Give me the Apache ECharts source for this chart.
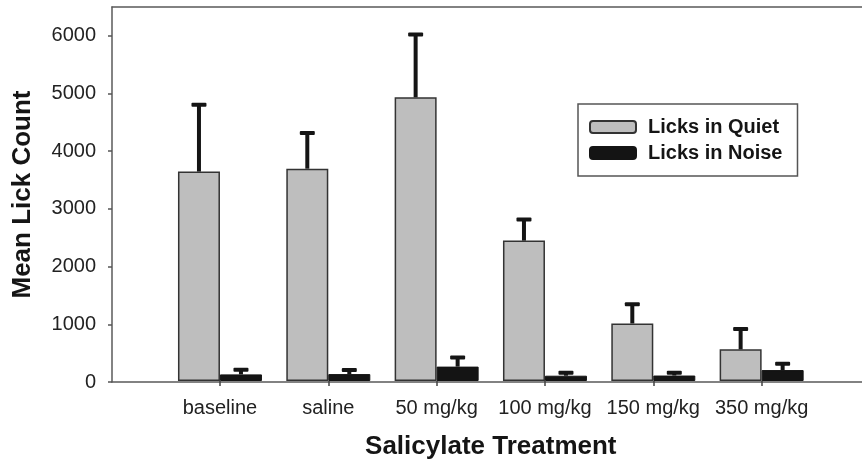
<!DOCTYPE html>
<html>
<head>
<meta charset="utf-8">
<script src="https://cdn.jsdelivr.net/npm/echarts@6/dist/echarts.min.js"></script>
<style>html,body{margin:0;padding:0;background:#fff}#c{width:862px;height:465px}</style>
</head>
<body>
<div id="c"></div>
<script>
const categories = ['baseline', 'saline', '50 mg/kg', '100 mg/kg', '150 mg/kg', '350 mg/kg'];
const quietValues = [3640, 3690, 4930, 2440, 1000, 550];
const quietErrors = [1160, 620, 1090, 365, 335, 355];
const noiseValues = [115, 120, 250, 92, 95, 190];
const noiseErrors = [80, 70, 160, 50, 48, 110];
const yTicks = [0, 1000, 2000, 3000, 4000, 5000, 6000];
const seriesNames = ['Licks in Quiet', 'Licks in Noise'];

const FONT = 'Liberation Sans';
const BAR_W = 42;
const FRAME = {color: '#5a5a5a', width: 1.5};
const chart = echarts.init(document.getElementById('c'), null, {renderer: 'canvas'});

function errSeries(vals, errs, offset, name) {
  return {
    type: 'custom', xAxisIndex: 2, yAxisIndex: 1, z: 5, silent: true,
    name: name + ' SE',
    data: vals.map((v, i) => [i, v, errs[i]]),
    renderItem: function (params, api) {
      const i = api.value(0), v = api.value(1), e = api.value(2);
      const p0 = api.coord([i, v]);
      const p1 = api.coord([i, v + e]);
      const x = p0[0] + offset;
      return {
        type: 'group',
        children: [
          {type: 'line', shape: {x1: x, y1: p0[1], x2: x, y2: p1[1]}, style: {stroke: '#151515', lineWidth: 4}},
          {type: 'rect', shape: {x: x - 7.5, y: p1[1] - 2, width: 15, height: 4, r: 1}, style: {fill: '#151515'}}
        ]
      };
    }
  };
}

chart.setOption({
  animation: false,
  grid: [
    {left: 112, top: 7, right: 0, bottom: 83},
    {left: 165.8, top: 7, right: 46.2, bottom: 83}
  ],
  legend: {
    orient: 'vertical', left: 578, top: 104,
    padding: [13, 15, 13, 11],
    borderColor: '#555', borderWidth: 1.5,
    itemGap: 6, itemWidth: 46, itemHeight: 12,
    icon: 'roundRect',
    data: seriesNames,
    textStyle: {fontFamily: FONT, fontSize: 20, fontWeight: 'bold', color: '#151515', padding: [0, 0, 0, 7]}
  },
  xAxis: [
    {gridIndex: 0, type: 'value', min: 0, max: 1, position: 'bottom',
     axisLine: {show: true, lineStyle: FRAME}, axisTick: {show: false}, axisLabel: {show: false}, splitLine: {show: false}},
    {gridIndex: 0, type: 'value', min: 0, max: 1, position: 'top',
     axisLine: {show: true, lineStyle: FRAME}, axisTick: {show: false}, axisLabel: {show: false}, splitLine: {show: false}},
    {
      gridIndex: 1, type: 'category', data: categories, boundaryGap: true,
      axisLine: {show: false},
      axisTick: {show: true, alignWithLabel: true, length: 5, lineStyle: {color: '#444', width: 1.5}},
      axisLabel: {fontFamily: FONT, fontSize: 20, color: '#222', margin: 17, interval: 0, hideOverlap: false},
      name: 'Salicylate Treatment', nameLocation: 'middle', nameGap: 53,
      nameTextStyle: {fontFamily: FONT, fontSize: 26, fontWeight: 'bold', color: '#151515'}
    }
  ],
  yAxis: [
    {
      gridIndex: 0, type: 'value', min: 0, max: 6500,
      splitLine: {show: false},
      axisLine: {show: true, lineStyle: FRAME},
      axisTick: {show: true, length: 4, customValues: yTicks, lineStyle: {color: '#555', width: 1.5}},
      axisLabel: {fontFamily: FONT, fontSize: 20, color: '#222', margin: 16, customValues: yTicks,
                  formatter: function (v) { return String(v); }},
      name: 'Mean Lick Count', nameLocation: 'middle', nameGap: 76,
      nameTextStyle: {fontFamily: FONT, fontSize: 26, fontWeight: 'bold', color: '#151515'}
    },
    {gridIndex: 1, type: 'value', min: 0, max: 6500, show: false}
  ],
  series: [
    {
      name: seriesNames[0], type: 'bar', xAxisIndex: 2, yAxisIndex: 1,
      barWidth: BAR_W, barGap: '0%', data: quietValues,
      itemStyle: {color: '#bebebe', borderColor: '#333', borderWidth: 1.5}
    },
    {
      name: seriesNames[1], type: 'bar', xAxisIndex: 2, yAxisIndex: 1,
      barWidth: BAR_W, barGap: '0%', data: noiseValues,
      itemStyle: {color: '#141414', borderColor: '#141414', borderWidth: 1}
    },
    errSeries(quietValues, quietErrors, -BAR_W / 2, seriesNames[0]),
    errSeries(noiseValues, noiseErrors, BAR_W / 2, seriesNames[1])
  ]
});
</script>
</body>
</html>
